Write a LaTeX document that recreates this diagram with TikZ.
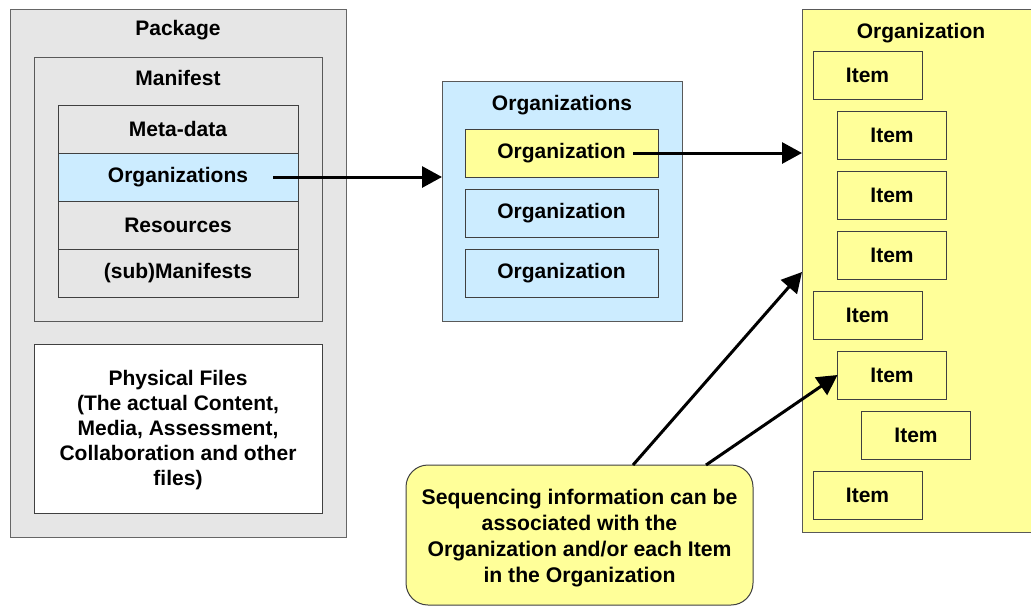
\documentclass[tikz,border=0pt]{standalone}
\usepackage{fontspec}
\setmainfont{Liberation Sans}
\usetikzlibrary{arrows.meta}
\definecolor{pkggray}{HTML}{E6E6E6}
\definecolor{lblue}{HTML}{CCECFF}
\definecolor{lyellow}{HTML}{FFFF99}
\begin{document}
\begin{tikzpicture}[x=1pt,y=-1pt,
  box/.style={draw=black!75, line width=1pt, inner sep=0pt, outer sep=0pt, font=\fontsize{21}{25}\selectfont\bfseries},
  lbl/.style={font=\fontsize{21}{25}\selectfont\bfseries, inner sep=0pt},
  conn/.style={line width=3pt, -{Triangle[length=20pt,width=21pt]}},
]
\useasboundingbox (0,0) rectangle (1031,606);
\fill[white] (0,0) rectangle (1031,606);
\begin{scope}
\clip (0,0) rectangle (1031,606);
% Package
\node[box, draw=black!60, fill=pkggray, minimum width=336, minimum height=528] (pkg) at (178,273) {};
\node[lbl] (pkgt) at (178,30) {Package};
\node[box, draw=black!65, fill=pkggray, minimum width=288, minimum height=264] (man) at (178,189) {};
\node[lbl] (mant) at (178,78) {Manifest};
\node[box, fill=pkggray, minimum width=240, minimum height=48] (meta) at (178,129) {Meta-data};
\node[box, fill=lblue, minimum width=240, minimum height=48] (orgsrow) at (178,177) {Organizations};
\node[box, fill=pkggray, minimum width=240, minimum height=48] (res) at (178,225) {Resources};
\node[box, fill=pkggray, minimum width=240, minimum height=48] (sub) at (178,273) {(sub)Manifests};
\node[box, fill=white, minimum width=288, minimum height=169] (phys) at (178,428.5) {};
\node[lbl, align=center] (physt) at (178,430.5)
  {Physical Files\\(The actual Content,\\Media, Assessment,\\Collaboration and other\\files)};
% Organizations
\node[box, draw=black!65, fill=lblue, minimum width=240, minimum height=240] (orgs) at (562,201) {};
\node[lbl] (orgst) at (562,105) {Organizations};
\node[box, fill=lyellow, minimum width=193, minimum height=48] (og1) at (561.5,153) {Organization};
\node[box, fill=lblue, minimum width=193, minimum height=48] (og2) at (561.5,213) {Organization};
\node[box, fill=lblue, minimum width=193, minimum height=48] (og3) at (561.5,273) {Organization};
% Organization (right)
\node[box, draw=black!65, fill=lyellow, minimum width=238, minimum height=523] (org) at (921,270.5) {};
\node[lbl] (orgt) at (921,33) {Organization};
\node[box, fill=lyellow, minimum width=109, minimum height=48] (i1) at (867.5,75) {Item};
\node[box, fill=lyellow, minimum width=109, minimum height=48] (i2) at (892,135) {Item};
\node[box, fill=lyellow, minimum width=109, minimum height=48] (i3) at (892,195) {Item};
\node[box, fill=lyellow, minimum width=109, minimum height=48] (i4) at (892,255) {Item};
\node[box, fill=lyellow, minimum width=109, minimum height=48] (i5) at (867.5,315) {Item};
\node[box, fill=lyellow, minimum width=109, minimum height=48] (i6) at (892,375) {Item};
\node[box, fill=lyellow, minimum width=109, minimum height=48] (i7) at (916,435) {Item};
\node[box, fill=lyellow, minimum width=109, minimum height=48] (i8) at (867.5,495) {Item};
% Callout
\node[box, fill=lyellow, rounded corners=22pt, minimum width=347, minimum height=140] (call) at (579.5,535) {};
\node[lbl, align=center, font=\fontsize{21.2}{26}\selectfont\bfseries] (callt) at (579.5,538)
  {Sequencing information can be\\associated with the\\Organization and/or each Item\\in the Organization};
% connectors
\coordinate (s1) at (273,177);
\coordinate (s2) at (633,153);
\coordinate (s3) at (633,465);
\coordinate (s4) at (706,465);
\coordinate (e3) at (802,272);
\draw[conn] (s1) -- (s1 -| orgs.west);
\draw[conn] (s2) -- (s2 -| org.west);
\draw[conn] (s3) -- (e3);
\draw[conn] (s4) -- (i6.west);
\end{scope}
\end{tikzpicture}
\end{document}
